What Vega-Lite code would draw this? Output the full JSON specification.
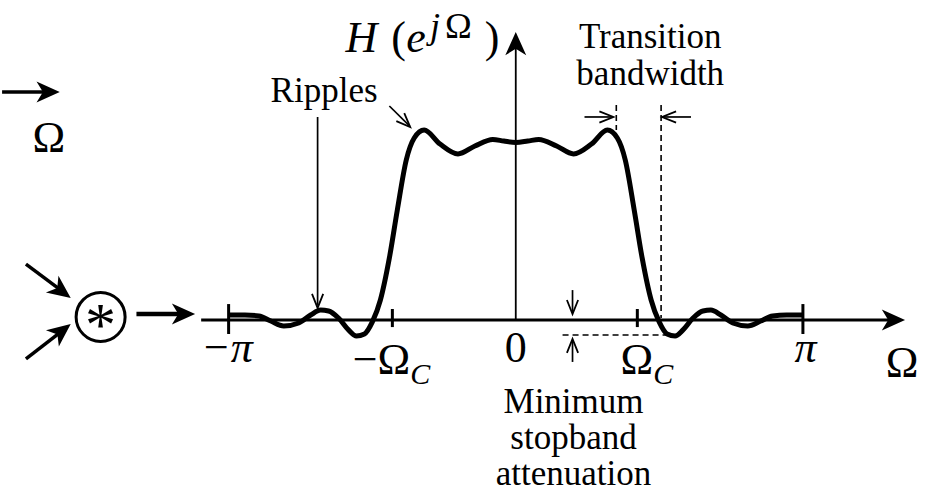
{
  "$schema": "https://vega.github.io/schema/vega-lite/v6.json",
  "width": 930,
  "height": 492,
  "autosize": {"type": "fit", "contains": "padding"},
  "padding": 0,
  "background": "white",
  "config": {"view": {"stroke": null}, "text": {"font": "Liberation Serif", "color": "black", "baseline": "alphabetic"}},
  "encoding": {
    "x": {"field": "x", "type": "quantitative", "scale": {"domain": [-5.599, 4.532], "nice": false, "zero": false}, "axis": null},
    "y": {"field": "y", "type": "quantitative", "scale": {"domain": [-0.9718, 1.8079], "nice": false, "zero": false}, "axis": null}
  },
  "layer": [
    {
      "data": {"values": [
        {"x": -3.442, "y": 0, "x2": 4.13, "y2": 0},
        {"x": -3.1416, "y": -0.079, "x2": -3.1416, "y2": 0.09},
        {"x": 3.1416, "y": -0.079, "x2": 3.1416, "y2": 0.09},
        {"x": -1.35, "y": -0.04, "x2": -1.35, "y2": 0.062},
        {"x": 1.33, "y": -0.04, "x2": 1.33, "y2": 0.062}
      ]},
      "mark": {"type": "rule", "color": "black", "strokeWidth": 3},
      "encoding": {"x2": {"field": "x2"}, "y2": {"field": "y2"}}
    },
    {
      "data": {"values": [{"x": 0, "y": 0, "x2": 0, "y2": 1.55}]},
      "mark": {"type": "rule", "color": "black", "strokeWidth": 1.8},
      "encoding": {"x2": {"field": "x2"}, "y2": {"field": "y2"}}
    },
    {
      "data": {"values": [
        {"x": -5.62, "y": 1.288, "x2": -5.12, "y2": 1.288},
        {"x": -5.359, "y": 0.316, "x2": -4.985, "y2": 0.172},
        {"x": -5.359, "y": -0.22, "x2": -4.984, "y2": -0.07}
      ]},
      "mark": {"type": "rule", "color": "black", "strokeWidth": 3.5},
      "encoding": {"x2": {"field": "x2"}, "y2": {"field": "y2"}}
    },
    {
      "data": {"values": [{"x": -4.15, "y": 0.034, "x2": -3.65, "y2": 0.034}]},
      "mark": {"type": "rule", "color": "black", "strokeWidth": 4.5},
      "encoding": {"x2": {"field": "x2"}, "y2": {"field": "y2"}}
    },
    {
      "data": {"values": [
        {"x": -2.168, "y": 1.147, "x2": -2.168, "y2": 0.085},
        {"x": -1.383, "y": 1.209, "x2": -1.16, "y2": 1.095},
        {"x": 0.752, "y": 1.147, "x2": 1.06, "y2": 1.147},
        {"x": 1.917, "y": 1.147, "x2": 1.61, "y2": 1.147},
        {"x": 0.621, "y": 0.169, "x2": 0.621, "y2": 0.04},
        {"x": 0.621, "y": -0.237, "x2": 0.621, "y2": -0.112}
      ]},
      "mark": {"type": "rule", "color": "black", "strokeWidth": 1.7},
      "encoding": {"x2": {"field": "x2"}, "y2": {"field": "y2"}}
    },
    {
      "data": {"values": [
        {"x": 1.1, "y": 1.215, "x2": 1.1, "y2": 1.073},
        {"x": 1.59, "y": 1.215, "x2": 1.59, "y2": 0.011},
        {"x": 0.512, "y": -0.085, "x2": 1.678, "y2": -0.085}
      ]},
      "mark": {"type": "rule", "color": "black", "strokeWidth": 1.6, "strokeDash": [6, 4]},
      "encoding": {"x2": {"field": "x2"}, "y2": {"field": "y2"}}
    },
    {
      "data": {"values": [
        {"x": -3.1416, "y": 0.028}, {"x": -2.963, "y": 0.028}, {"x": -2.81, "y": 0.023},
        {"x": -2.68, "y": -0.006}, {"x": -2.538, "y": -0.034}, {"x": -2.375, "y": -0.017},
        {"x": -2.244, "y": 0.028}, {"x": -2.135, "y": 0.056}, {"x": -2.048, "y": 0.051},
        {"x": -1.939, "y": 0.011}, {"x": -1.83, "y": -0.056}, {"x": -1.743, "y": -0.09},
        {"x": -1.656, "y": -0.079}, {"x": -1.569, "y": -0.011}, {"x": -1.481, "y": 0.113},
        {"x": -1.383, "y": 0.35}, {"x": -1.296, "y": 0.621}, {"x": -1.198, "y": 0.904},
        {"x": -1.111, "y": 1.028}, {"x": -1.002, "y": 1.073}, {"x": -0.828, "y": 0.994},
        {"x": -0.632, "y": 0.938}, {"x": -0.447, "y": 0.983}, {"x": -0.251, "y": 1.02},
        {"x": -0.131, "y": 1.011}, {"x": 0, "y": 1.003},
        {"x": 0.131, "y": 1.011}, {"x": 0.251, "y": 1.02}, {"x": 0.447, "y": 0.983},
        {"x": 0.632, "y": 0.938}, {"x": 0.828, "y": 0.994}, {"x": 1.002, "y": 1.073},
        {"x": 1.111, "y": 1.028}, {"x": 1.198, "y": 0.904}, {"x": 1.296, "y": 0.621},
        {"x": 1.383, "y": 0.35}, {"x": 1.481, "y": 0.113}, {"x": 1.569, "y": -0.011},
        {"x": 1.656, "y": -0.079}, {"x": 1.743, "y": -0.09}, {"x": 1.83, "y": -0.056},
        {"x": 1.939, "y": 0.011}, {"x": 2.048, "y": 0.051}, {"x": 2.135, "y": 0.056},
        {"x": 2.244, "y": 0.028}, {"x": 2.375, "y": -0.017}, {"x": 2.538, "y": -0.034},
        {"x": 2.68, "y": -0.006}, {"x": 2.81, "y": 0.023}, {"x": 2.963, "y": 0.028},
        {"x": 3.1416, "y": 0.028}
      ]},
      "mark": {"type": "line", "color": "black", "strokeWidth": 5, "interpolate": "monotone"}
    },
    {
      "data": {"values": [
        {"x": 4.259, "y": 0, "angle": 0},
        {"x": 0, "y": 1.627, "angle": 270},
        {"x": -4.989, "y": 1.288, "angle": 0},
        {"x": -4.869, "y": 0.124, "angle": 37},
        {"x": -4.869, "y": -0.023, "angle": 322},
        {"x": -3.508, "y": 0.034, "angle": 0}
      ]},
      "mark": {"type": "point", "shape": "M0,0L-2,-0.9L-1.45,0L-2,0.9Z", "filled": true, "color": "black", "opacity": 1, "size": 540, "strokeWidth": 0},
      "encoding": {"angle": {"field": "angle", "type": "quantitative", "scale": null}}
    },
    {
      "data": {"values": [
        {"x": -2.168, "y": 0.068, "angle": 90},
        {"x": -1.155, "y": 1.09, "angle": 45},
        {"x": 1.068, "y": 1.147, "angle": 0},
        {"x": 1.601, "y": 1.147, "angle": 180},
        {"x": 0.621, "y": 0.034, "angle": 90},
        {"x": 0.621, "y": -0.107, "angle": 270}
      ]},
      "mark": {"type": "point", "shape": "M-2,-0.8L0,0L-2,0.8", "filled": false, "color": "black", "opacity": 1, "size": 196, "strokeWidth": 1.8},
      "encoding": {"angle": {"field": "angle", "type": "quantitative", "scale": null}}
    },
    {
      "data": {"values": [{"x": -4.542, "y": 0.017}]},
      "mark": {"type": "point", "shape": "circle", "filled": false, "color": "black", "opacity": 1, "size": 2401, "strokeWidth": 3}
    },
    {
      "data": {"values": [
        {"t": "Ripples", "x": -2.097, "y": 1.232},
        {"t": "Transition", "x": 1.471, "y": 1.537},
        {"t": "bandwidth", "x": 1.471, "y": 1.328},
        {"t": "Minimum", "x": 0.632, "y": -0.525},
        {"t": "stopband", "x": 0.632, "y": -0.729},
        {"t": "attenuation", "x": 0.632, "y": -0.932}
      ]},
      "mark": {"type": "text", "font": "Liberation Serif", "fontSize": 35, "align": "center"},
      "encoding": {"text": {"field": "t"}}
    },
    {
      "data": {"values": [
        {"t": "0", "x": 0, "y": -0.237},
        {"t": "Ω", "x": 4.227, "y": -0.322},
        {"t": "Ω", "x": -5.109, "y": 0.949}
      ]},
      "mark": {"type": "text", "font": "Liberation Serif", "fontSize": 44, "align": "center"},
      "encoding": {"text": {"field": "t"}}
    },
    {
      "data": {"values": [
        {"t": "−Ω", "x": -1.155, "y": -0.305},
        {"t": "Ω", "x": 1.503, "y": -0.305}
      ]},
      "mark": {"type": "text", "font": "Liberation Serif", "fontSize": 44, "align": "right"},
      "encoding": {"text": {"field": "t"}}
    },
    {
      "data": {"values": [
        {"t": "(", "x": -1.362, "y": 1.514},
        {"t": ")", "x": -0.338, "y": 1.514}
      ]},
      "mark": {"type": "text", "font": "Liberation Serif", "fontSize": 44, "align": "left"},
      "encoding": {"text": {"field": "t"}}
    },
    {
      "data": {"values": [{"t": "Ω", "x": -0.773, "y": 1.593}]},
      "mark": {"type": "text", "font": "Liberation Serif", "fontSize": 36, "align": "left"},
      "encoding": {"text": {"field": "t"}}
    },
    {
      "data": {"values": [
        {"t": "−π", "x": -3.16, "y": -0.237},
        {"t": "π", "x": 3.17, "y": -0.237}
      ]},
      "mark": {"type": "text", "font": "Liberation Serif", "fontSize": 44, "align": "center", "fontStyle": "italic"},
      "encoding": {"text": {"field": "t"}}
    },
    {
      "data": {"values": [
        {"t": "H", "x": -1.863, "y": 1.514},
        {"t": "e", "x": -1.198, "y": 1.514}
      ]},
      "mark": {"type": "text", "font": "Liberation Serif", "fontSize": 44, "align": "left", "fontStyle": "italic"},
      "encoding": {"text": {"field": "t"}}
    },
    {
      "data": {"values": [{"t": "j", "x": -0.937, "y": 1.593}]},
      "mark": {"type": "text", "font": "Liberation Serif", "fontSize": 36, "align": "left", "fontStyle": "italic"},
      "encoding": {"text": {"field": "t"}}
    },
    {
      "data": {"values": [
        {"t": "C", "x": -1.155, "y": -0.36},
        {"t": "C", "x": 1.503, "y": -0.36}
      ]},
      "mark": {"type": "text", "font": "Liberation Serif", "fontSize": 30, "align": "left", "fontStyle": "italic"},
      "encoding": {"text": {"field": "t"}}
    },
    {
      "data": {"values": [{"t": "*", "x": -4.542, "y": -0.141}]},
      "mark": {"type": "text", "font": "Liberation Serif", "fontSize": 62, "align": "center"},
      "encoding": {"text": {"field": "t"}}
    }
  ]
}
